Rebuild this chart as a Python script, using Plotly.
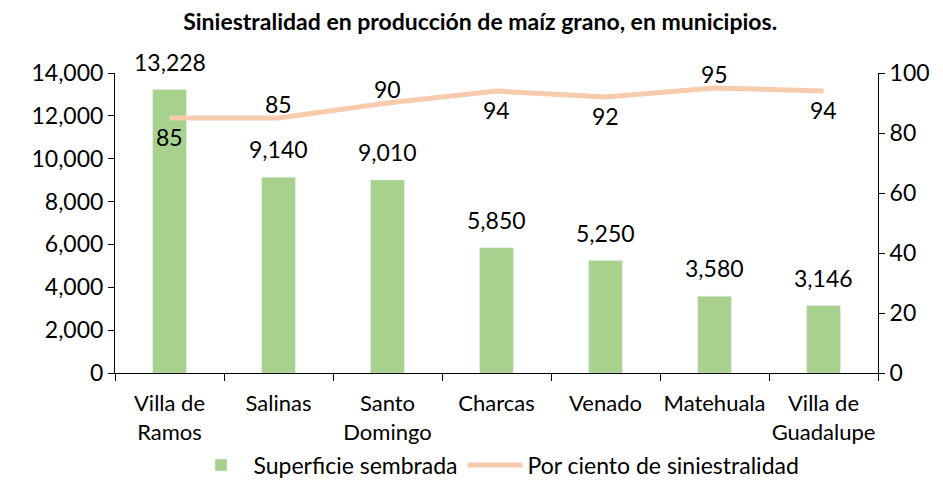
import plotly.graph_objects as go

municipios = ["Villa de<br>Ramos", "Salinas", "Santo<br>Domingo", "Charcas", "Venado", "Matehuala", "Villa de<br>Guadalupe"]
superficie = [13228, 9140, 9010, 5850, 5250, 3580, 3146]
siniestralidad = [85, 85, 90, 94, 92, 95, 94]
label_side = ["below", "above", "above", "below", "below", "above", "below"]

FONT = "Lato"

fig = go.Figure()
fig.add_trace(go.Bar(
    x=municipios, y=superficie, name="Superficie sembrada",
    marker_color="#A9D18E", width=0.31,
))
fig.add_trace(go.Scatter(
    x=municipios, y=siniestralidad, name="Por ciento de siniestralidad",
    mode="lines", yaxis="y2",
    line=dict(color="#F8CBAD", width=5),
))

for m, v in zip(municipios, superficie):
    fig.add_annotation(x=m, y=v, xref="x", yref="y", text=f"{v:,}", showarrow=False,
                       yanchor="bottom", yshift=12,
                       font=dict(size=23, color="black", family=FONT))
for m, v, s in zip(municipios, siniestralidad, label_side):
    fig.add_annotation(x=m, y=v, xref="x", yref="y2", text=str(v), showarrow=False,
                       yanchor="middle", yshift=(14 if s == "above" else -19),
                       font=dict(size=23, color="black", family=FONT))

fig.update_layout(
    width=935, height=472,
    margin=dict(l=107, r=65, t=65, b=107, autoexpand=False),
    paper_bgcolor="white", plot_bgcolor="white",
    font=dict(family=FONT, size=22, color="black"),
    title=dict(text="<b>Siniestralidad en producción de maíz grano, en municipios.</b>",
               x=0.505, xanchor="center", y=0.97, yanchor="middle",
               font=dict(size=23, family=FONT, color="black")),
    xaxis=dict(showline=True, linecolor="black", linewidth=1, ticks="outside",
               tickson="boundaries", ticklen=7, tickcolor="black", tickangle=0,
               tickfont=dict(size=22), automargin=False, ticklabelstandoff=11),
    yaxis=dict(range=[0, 14000], dtick=2000, tickformat=",", showline=True,
               linecolor="black", ticks="outside", ticklen=6, tickcolor="black",
               showgrid=False, zeroline=False, tickfont=dict(size=23), automargin=False),
    yaxis2=dict(range=[0, 100], dtick=20, overlaying="y", side="right", showline=True,
                linecolor="black", ticks="outside", ticklen=6, tickcolor="black",
                showgrid=False, zeroline=False, tickfont=dict(size=23), automargin=False),
    legend=dict(orientation="h", x=0.5, xanchor="center", y=-0.235, yanchor="top",
                font=dict(size=23), traceorder="normal", itemwidth=55),
    showlegend=True,
)

fig.write_html("out.html")
